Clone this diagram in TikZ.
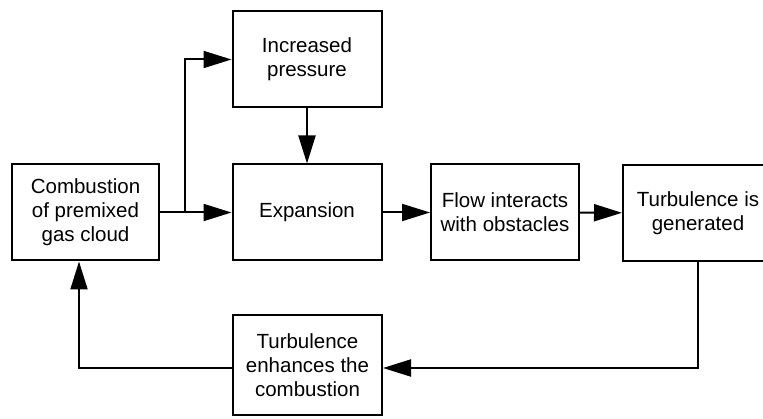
\documentclass[tikz,border=0pt]{standalone}
\usepackage{fontspec}
\setmainfont{Liberation Sans}
\usetikzlibrary{arrows.meta,calc}

\tikzset{
  Box/.style={draw,line width=2pt,align=center,inner sep=0pt,
    minimum width=149pt,minimum height=96pt,
    font=\fontsize{20.5}{24}\selectfont},
  Arr/.style={line width=2pt,-{Triangle[length=28pt,width=17pt]}}
}

\begin{document}
\begin{tikzpicture}[x=1pt,y=-1pt]
\useasboundingbox (0,0) rectangle (763,419);

\node[Box,minimum width=147pt] (C) at (85.5,212.5) {Combustion\\of premixed\\gas cloud};
\node[Box] (P) at (307,59.5) {Increased\\pressure};
\node[Box] (E) at (307,212.5) {Expansion};
\node[Box,minimum width=148pt] (F) at (505,212.5) {Flow interacts\\with obstacles};
\node[Box,minimum width=150pt] (T) at (698,213) {Turbulence is\\generated};
\node[Box,minimum height=100pt] (TE) at (307.5,365) {Turbulence\\enhances the\\combustion};

\coordinate (S) at (185,212.5);

\draw[Arr] (C.east) -- (E.west);
\draw[Arr] (S) |- (P.west);
\draw[Arr] (P) -- (E);
\draw[Arr] (E) -- (F);
\draw[Arr] (F) -- (T);
\draw[Arr] (T.south) |- ([yshift=-3pt]TE.east);
\draw[Arr] ([yshift=-3pt]TE.west) -| ([xshift=-6.5pt]C.south);

\end{tikzpicture}
\end{document}
